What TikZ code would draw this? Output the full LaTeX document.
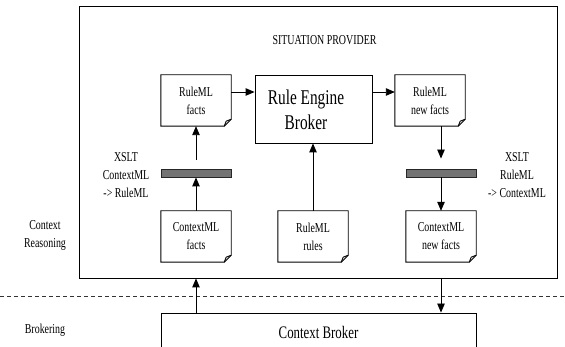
\documentclass[tikz,border=0pt]{standalone}
\usepackage{graphicx}
\usepackage{fontspec}
\setmainfont{Liberation Serif}
\usetikzlibrary{arrows.meta,calc}
\newcommand\sq[1]{\scalebox{0.73}[1]{#1}}
\newcommand\docnode[4]{%
  \node[docbox] (#1) at (#2,#3) {#4};
  \draw[docline] (#1.north west) -- (#1.north east) -- ([yshift=7pt]#1.south east)
     -- ([xshift=-7pt]#1.south east) -- (#1.south west) -- cycle;
  \draw[docline] ([xshift=-7pt]#1.south east) -- ([xshift=-5pt,yshift=5pt]#1.south east)
     -- ([yshift=7pt]#1.south east);
}
\begin{document}
\begin{tikzpicture}[x=1pt,y=-1pt,
  base/.style={font=\fontsize{13.6}{18}\selectfont, align=center, inner sep=0pt},
  docbox/.style={base, minimum width=70pt, minimum height=51pt},
  docline/.style={draw=black, line width=0.9pt},
  bigbox/.style={draw=black, line width=0.9pt, inner sep=0pt},
  barbox/.style={draw=black!85, fill=black!55, line width=0.9pt, minimum width=70pt, minimum height=8pt, inner sep=0pt},
  arr/.style={line width=0.9pt, -{Triangle[length=9pt,width=7.5pt]}},
  lbl/.style={base}
]
\useasboundingbox (0,0) rectangle (565,347);
% outer box
\node[bigbox, minimum width=478pt, minimum height=272pt] (outer) at (318,142) {};
\node[lbl] (sp) at (324.5,40) {\sq{SITUATION PROVIDER}};
% dashed separator
\coordinate (dl) at (0,296);
\coordinate (dr) at (565,296);
\draw[black!80, line width=0.8pt, dash pattern=on 4pt off 3pt] (dl) -- (dr);
% boxes
\docnode{rf}{196}{100.5}{\sq{RuleML}\\\sq{facts}}
\docnode{rnf}{430}{100.5}{\sq{RuleML}\\\sq{new facts}}
\docnode{cf}{196}{236.5}{\sq{ContextML}\\\sq{facts}}
\docnode{rr}{313}{236.5}{\sq{RuleML}\\\sq{rules}}
\docnode{cnf}{441}{236.5}{\sq{ContextML}\\\sq{new facts}}
\node[bigbox, minimum width=117pt, minimum height=68pt] (reb) at (313.5,109) {};
\node[font=\fontsize{21}{25}\selectfont, align=center, inner sep=0pt] (rebt) at (306,109.5) {\sq{Rule Engine}\\\sq{Broker}};
\node[barbox] (barL) at (196,173) {};
\node[barbox] (barR) at (441,173) {};
\node[bigbox, minimum width=315pt, minimum height=38pt, font=\fontsize{17.6}{20}\selectfont] (cb) at (318.5,332) {\sq{Context Broker}};
% labels
\node[lbl] (xl) at (126,175.5) {\sq{XSLT}\\\sq{ContextML}\\\sq{-> RuleML}};
\node[lbl] (xr) at (517,175.5) {\sq{XSLT}\\\sq{RuleML}\\\sq{-> ContextML}};
\node[lbl] (cr) at (45,235.5) {\sq{Context}\\\sq{Reasoning}};
\node[lbl] (br) at (45,330) {\sq{Brokering}};
% connectors
\draw[arr] ([yshift=8.5pt]rf.east) -- ([yshift=8.5pt]rf.east -| reb.west);
\draw[arr] ([yshift=8.5pt]rnf.west -| reb.east) -- ([yshift=8.5pt]rnf.west);
\draw[arr] (cf.north) -- (barL.south);
\coordinate (aboveL) at ([yshift=9pt]barL.north);
\draw[arr] (aboveL) -- (rf.south);
\coordinate (aboveR) at ([yshift=10pt]barR.north);
\draw[arr] (barR.north |- rnf.south) -- (aboveR);
\draw[arr] (barR.south) -- (cnf.north);
\draw[arr] (rr.north) -- (rr.north |- reb.south);
\draw[arr] (cb.north -| cf.south) -- (outer.south -| cf.south);
\draw[arr] (outer.south -| barR.south) -- (cb.north -| barR.south);
\end{tikzpicture}
\end{document}
